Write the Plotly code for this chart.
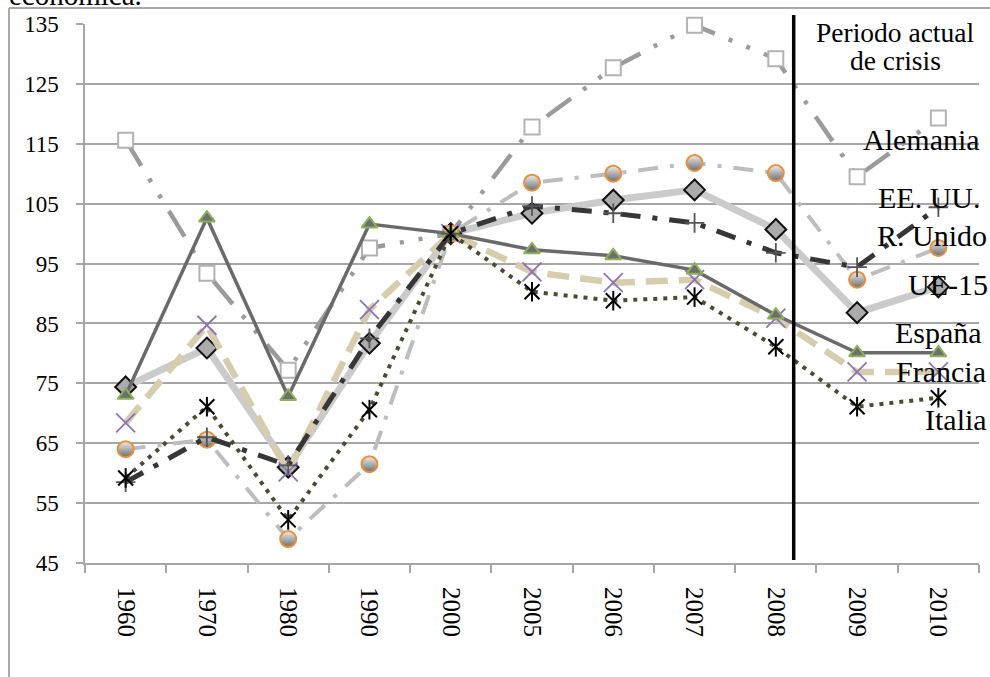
import plotly.graph_objects as go

# ---------------- data ----------------
years = ["1960", "1970", "1980", "1990", "2000", "2005", "2006", "2007", "2008", "2009", "2010"]
alemania = [115.6, 93.4, 77.2, 97.6, 100, 117.8, 127.7, 134.8, 129.2, 109.5, 119.3]
eeuu = [58.5, 66.0, 61.3, 82.5, 100, 104.6, 103.4, 101.8, 96.8, 94.4, 104.4]
runido = [64.0, 65.6, 49.0, 61.5, 100, 108.5, 110.0, 111.8, 110.1, 92.3, 97.6]
ue15 = [74.4, 80.9, 61.0, 81.7, 100, 103.4, 105.6, 107.3, 100.7, 86.8, 91.1]
espana = [73.0, 102.6, 72.8, 101.6, 100, 97.3, 96.3, 93.9, 86.4, 80.1, 80.1]
francia = [68.4, 84.7, 60.2, 87.3, 100, 93.6, 91.8, 92.3, 85.9, 76.9, 76.9]
italia = [59.2, 71.1, 52.2, 70.6, 100, 90.3, 88.8, 89.4, 81.1, 71.1, 72.6]
y_ticks = [45, 55, 65, 75, 85, 95, 105, 115, 125, 135]
crisis_pos = 8.22  # category position of the crisis marker line (between 2008 and 2009)

series_labels = ["Alemania", "EE. UU.", "R. Unido", "UE-15", "España", "Francia", "Italia"]
crisis_text = ["Periodo actual", "de crisis"]
top_text = "económica."

# ---------------- layout geometry ----------------
W, H = 990, 677
L, R, T, B = 85, 11, 24, 114
PW, PH = W - L - R, H - T - B


def px_x(px):
    return (px - L) / PW


def px_y(py):
    return (H - B - py) / PH


SERIF = "Liberation Serif"

fig = go.Figure()

# UE-15
fig.add_trace(go.Scatter(
    x=years, y=ue15, mode="lines+markers", name="UE-15", cliponaxis=False,
    line=dict(color="#cbcbcb", width=7),
    marker=dict(symbol="diamond", size=16, color="#ababab", line=dict(color="#111111", width=2)),
))
# Alemania
fig.add_trace(go.Scatter(
    x=years, y=alemania, mode="lines+markers", name="Alemania", cliponaxis=False,
    line=dict(color="#9b9b9b", width=4.5, dash="30px,15px,4px,15px,4px,15px"),
    marker=dict(symbol="square", size=15, color="#ffffff", line=dict(color="#b3b3b3", width=2)),
))
# R. Unido
fig.add_trace(go.Scatter(
    x=years, y=runido, mode="lines+markers", name="R. Unido", cliponaxis=False,
    line=dict(color="#bdbdbd", width=4, dash="20px,12px,4px,12px"),
    marker=dict(symbol="circle", size=16, color="#eeeeee",
                gradient=dict(type="vertical", color="#6e6e6e"),
                line=dict(color="#e8903c", width=2)),
))
# Francia
fig.add_trace(go.Scatter(
    x=years, y=francia, mode="lines+markers", name="Francia", cliponaxis=False,
    line=dict(color="#d5cdad", width=6.5, dash="22px,11px"),
    marker=dict(symbol="x-thin", size=19, color="#8e72b6", line=dict(color="#8e72b6", width=1.8)),
))
# España
fig.add_trace(go.Scatter(
    x=years, y=espana, mode="lines+markers", name="España", cliponaxis=False,
    line=dict(color="#6a6a6a", width=3.5),
    marker=dict(symbol="triangle-up", size=14, color="#6e6e6e", line=dict(color="#8cb05a", width=2)),
))
# EE. UU.
fig.add_trace(go.Scatter(
    x=years, y=eeuu, mode="lines+markers", name="EE. UU.", cliponaxis=False,
    line=dict(color="#363636", width=5, dash="20px,12px,5px,12px"),
    marker=dict(symbol="cross-thin", size=14, color="#555555", line=dict(color="#555555", width=1.8)),
))
# Italia
fig.add_trace(go.Scatter(
    x=years, y=italia, mode="lines+markers", name="Italia", cliponaxis=False,
    line=dict(color="#4e4a2f", width=4, dash="4px,6px"),
    marker=dict(symbol="x-thin", size=15, color="#000000", line=dict(color="#000000", width=2)),
))
fig.add_trace(go.Scatter(
    x=years, y=italia, mode="markers", name="Italia", showlegend=False, cliponaxis=False,
    marker=dict(symbol="line-ns", size=14, color="#000000", line=dict(color="#000000", width=2)),
))

# ---------------- shapes ----------------
shapes = [
    # crisis divider
    dict(type="line", xref="paper", yref="paper",
         x0=(crisis_pos + 0.5) / len(years), x1=(crisis_pos + 0.5) / len(years),
         y0=px_y(560), y1=px_y(15), line=dict(color="#000000", width=3.5), layer="above"),
    # outer frame (top and left)
    dict(type="line", xref="paper", yref="paper", x0=px_x(9), x1=px_x(990), y0=px_y(8), y1=px_y(8),
         line=dict(color="#aaaaaa", width=2)),
    dict(type="line", xref="paper", yref="paper", x0=px_x(9), x1=px_x(9), y0=px_y(8), y1=px_y(677),
         line=dict(color="#aaaaaa", width=2)),
]

# ---------------- annotations ----------------
label_pos = [(981, 139.5), (981, 197), (988, 236), (989, 284), (983, 332.5), (987, 371.5), (988, 420)]
annotations = []
for txt, (xr, yc) in zip(series_labels, label_pos):
    annotations.append(dict(text=txt, xref="paper", yref="paper", x=px_x(xr), y=px_y(yc),
                            xanchor="right", yanchor="middle", showarrow=False, borderpad=0,
                            font=dict(family=SERIF, size=30, color="#000000")))
for txt, yc in zip(crisis_text, [32, 60]):
    annotations.append(dict(text=txt, xref="paper", yref="paper", x=px_x(895), y=px_y(yc),
                            xanchor="center", yanchor="middle", showarrow=False, borderpad=0,
                            font=dict(family=SERIF, size=27.5, color="#000000")))
annotations.append(dict(text=top_text, xref="paper", yref="paper", x=px_x(8), y=px_y(-5),
                        xanchor="left", yanchor="middle", showarrow=False, borderpad=0,
                        font=dict(family=SERIF, size=29, color="#000000")))

fig.update_layout(
    width=W, height=H,
    margin=dict(l=L, r=R, t=T, b=B, autoexpand=False),
    paper_bgcolor="#ffffff", plot_bgcolor="#ffffff",
    showlegend=False,
    shapes=shapes,
    annotations=annotations,
    xaxis=dict(
        type="category", categoryorder="array", categoryarray=years,
        range=[-0.5, len(years) - 0.5],
        showgrid=False, showline=True, linecolor="#a6a6a6", linewidth=2,
        ticks="outside", tickson="boundaries", ticklen=8, tickcolor="#a6a6a6", tickwidth=1.5,
        tickangle=90, tickfont=dict(family=SERIF, size=25, color="#000000"),
        ticklabelstandoff=17, automargin=False, zeroline=False,
    ),
    yaxis=dict(
        range=[45, 135], tickvals=y_ticks, showgrid=True, gridcolor="#a6a6a6", gridwidth=1.5,
        showline=True, linecolor="#a6a6a6", linewidth=1.5,
        ticks="outside", ticklen=7, tickcolor="#a6a6a6", tickwidth=1.5,
        tickfont=dict(family=SERIF, size=23, color="#000000"),
        ticklabelstandoff=13, automargin=False, zeroline=False,
    ),
)

fig.write_html(
    "out.html",
    config={"displayModeBar": False},
    post_script="document.body.style.margin='0';document.body.style.padding='0';"
                "document.documentElement.style.overflow='hidden';",
)
